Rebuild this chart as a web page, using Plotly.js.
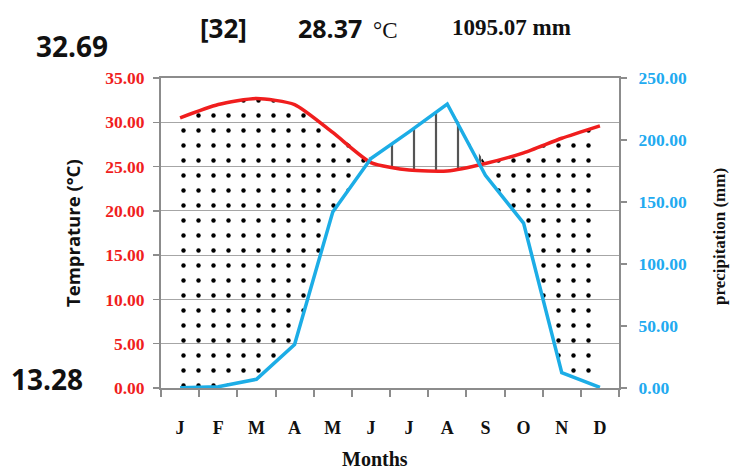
<!DOCTYPE html>
<html>
<head>
<meta charset="utf-8">
<script src="https://cdn.plot.ly/plotly-3.0.1.min.js"></script>
<style>html,body{margin:0;padding:0;background:#fff;}#chart{width:731px;height:473px;}</style>
</head>
<body>
<div id="chart"></div>
<script>
// ---- data ----
const months = ['Jan','Feb','Mar','Apr','May','Jun','Jul','Aug','Sep','Oct','Nov','Dec'];
const monthLabels = ['J','F','M','A','M','J','J','A','S','O','N','D'];
const temperature = [30.5, 32.0, 32.69, 32.0, 28.85, 25.45, 24.6, 24.5, 25.35, 26.55, 28.2, 29.6];
const precipitation = [0.3, 1.0, 7.0, 35.0, 142.0, 185.0, 206.5, 229.0, 171.5, 133.0, 12.3, 0.5];
const tempTicks = [0, 5, 10, 15, 20, 25, 30, 35];
const precTicks = [0, 50, 100, 150, 200, 250];
const T_MAX = 35, P_MAX = 250;

// precipitation expressed on the temperature axis (same vertical scale as the right axis)
const ratio = T_MAX / P_MAX;
const precOnT = precipitation.map(v => v * ratio);
const upper = temperature.map((t, i) => Math.max(t, precOnT[i]));

const RED = '#f01e1e', BLUE = '#1cade6', BLUE_TXT = '#22aaf0', GRID = '#a6a6a6', AX = '#8c8c8c';

const traces = [
  {x: months, y: precOnT, yaxis: 'y', mode: 'lines', line: {width: 0}, hoverinfo: 'skip', showlegend: false},
  {x: months, y: upper, yaxis: 'y', mode: 'lines', line: {width: 0}, fill: 'tonexty',
   fillcolor: 'rgba(0,0,0,0)',
   fillpattern: {shape: '.', size: 15, solidity: 0.07, fgcolor: '#000000', bgcolor: 'rgba(255,255,255,0)'},
   hoverinfo: 'skip', showlegend: false},
  {x: months, y: temperature, yaxis: 'y', mode: 'lines', line: {width: 0}, hoverinfo: 'skip', showlegend: false},
  {x: months, y: upper, yaxis: 'y', mode: 'lines', line: {width: 0}, fill: 'tonexty',
   fillcolor: 'rgba(0,0,0,0)',
   fillpattern: {shape: '|', size: 22, solidity: 0.1, fgcolor: '#555555', bgcolor: 'rgba(255,255,255,0)'},
   hoverinfo: 'skip', showlegend: false},
  {x: months, y: temperature, yaxis: 'y', mode: 'lines', line: {color: RED, width: 3.5, shape: 'spline', smoothing: 0.6}, showlegend: false},
  {x: months, y: precipitation, yaxis: 'y2', mode: 'lines', line: {color: BLUE, width: 3.5}, showlegend: false}
];

const L = 161, R = 619, TOP = 78, BOT = 388;
const px = x => (x - L) / (R - L);
const py = y => (BOT - y) / (BOT - TOP);

function ann(text, x, y, font, extra) {
  return Object.assign({text: text, x: px(x), y: py(y), xref: 'paper', yref: 'paper',
    xanchor: 'center', yanchor: 'middle', showarrow: false, font: font}, extra || {});
}
const sansB = (s, c) => ({family: 'Open Sans, Liberation Sans, sans-serif', size: s, color: c || '#111', weight: 'bold'});
const serifB = (s, c) => ({family: 'Liberation Serif, Times New Roman, serif', size: s, color: c || '#111', weight: 'bold'});
const serif = (s, c) => ({family: 'Liberation Serif, Times New Roman, serif', size: s, color: c || '#111'});

const layout = {
  width: 731, height: 473,
  margin: {l: L, r: 731 - R, t: TOP, b: 473 - BOT, pad: 0},
  paper_bgcolor: '#ffffff', plot_bgcolor: '#ffffff',
  showlegend: false,
  xaxis: {
    type: 'category', tickmode: 'array', tickvals: months, ticktext: monthLabels,
    tickson: 'boundaries', ticks: 'outside', ticklen: 7, tickwidth: 2, tickcolor: AX,
    showline: true, linecolor: AX, linewidth: 2, mirror: true, showgrid: false, zeroline: false,
    tickfont: serifB(18, '#111'), ticklabelstandoff: 22, range: [-0.5, 11.5]
  },
  yaxis: {
    range: [0, T_MAX], tickmode: 'array', tickvals: tempTicks, tickformat: '.2f',
    ticks: 'outside', ticklen: 6, tickwidth: 1.5, tickcolor: AX,
    showline: true, linecolor: AX, linewidth: 2, showgrid: true, gridcolor: GRID, gridwidth: 1.2,
    zeroline: false, tickfont: serifB(17.5, RED), ticklabelstandoff: 5
  },
  yaxis2: {
    range: [0, P_MAX], overlaying: 'y', side: 'right', tickmode: 'array', tickvals: precTicks, tickformat: '.2f',
    ticks: 'outside', ticklen: 6, tickwidth: 1.5, tickcolor: AX,
    showline: true, linecolor: AX, linewidth: 2, showgrid: false, zeroline: false,
    tickfont: serifB(17.5, BLUE_TXT), ticklabelstandoff: 8
  },
  annotations: [
    ann('32.69', 72, 46, sansB(28)),
    ann('13.28', 47, 379, sansB(28)),
    ann('[32]', 223, 28, sansB(26)),
    ann('28.37', 330, 28, sansB(25)),
    ann('°C', 385, 30, serif(23)),
    ann('1095.07 mm', 511, 28, serifB(23)),
    ann('Months', 375, 459, serifB(20)),
    ann('Temprature (°C)', 72, 233, sansB(18.5), {textangle: -90}),
    ann('precipitation (mm)', 719, 237, serifB(17), {textangle: -90})
  ]
};

Plotly.newPlot('chart', traces, layout, {displayModeBar: false, staticPlot: true});
</script>
</body>
</html>
